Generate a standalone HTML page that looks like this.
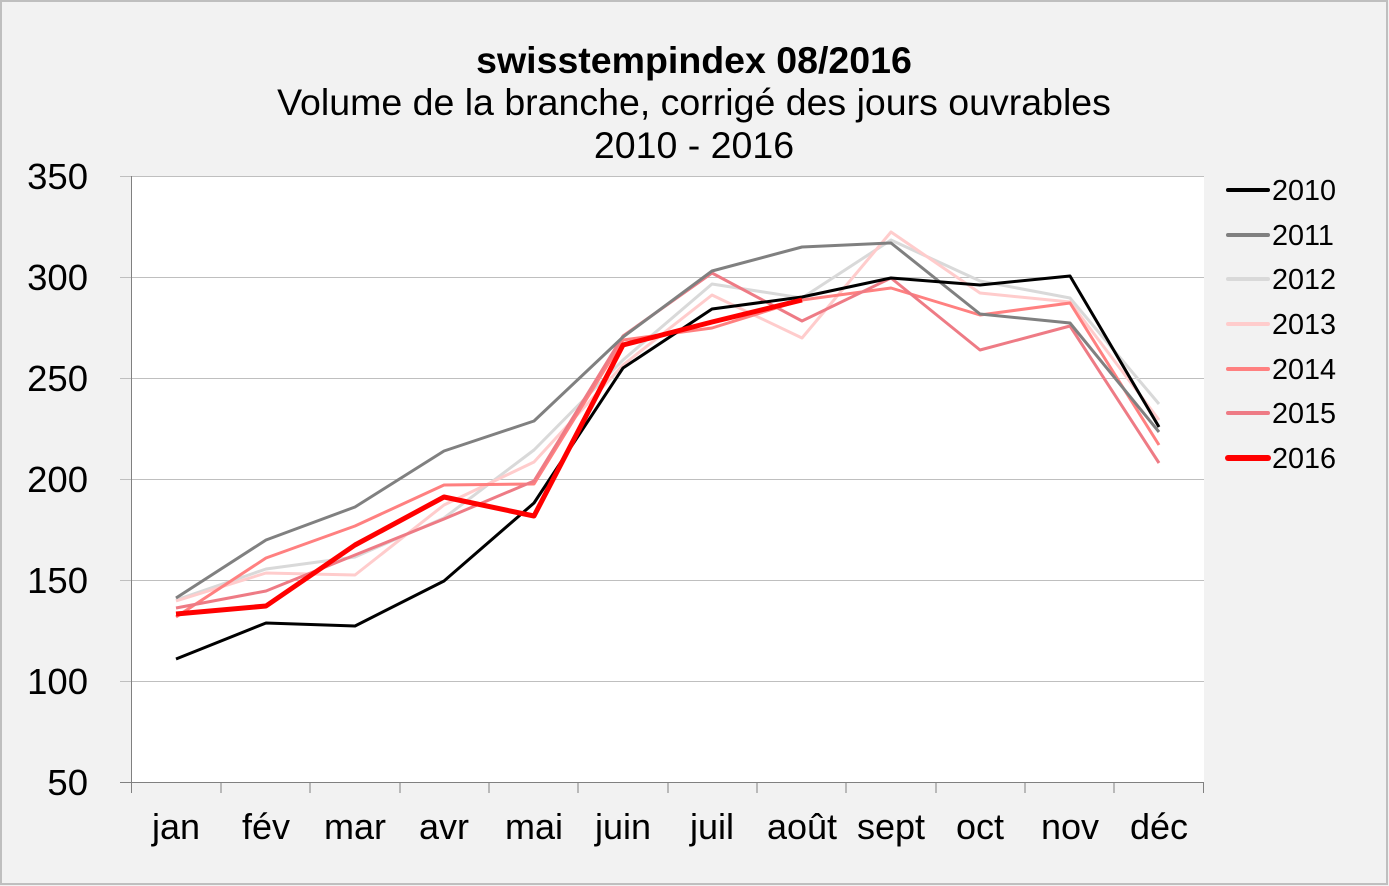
<!DOCTYPE html>
<html><head><meta charset="utf-8"><style>
html,body{margin:0;padding:0;background:#f2f2f2}
svg{display:block;font-family:"Liberation Sans",Arial,sans-serif}
</style></head><body>
<svg width="1389" height="886" viewBox="0 0 1389 886" xmlns="http://www.w3.org/2000/svg">
<rect x="0" y="0" width="1389" height="886" fill="#f2f2f2"/>
<rect x="1" y="1" width="1386" height="883" fill="none" stroke="#bfbfbf" stroke-width="2"/>
<rect x="131" y="176" width="1073" height="606" fill="#fff"/>
<g stroke="#bfbfbf" stroke-width="1">
<line x1="120" y1="176.5" x2="1204" y2="176.5"/>
<line x1="120" y1="277.5" x2="1204" y2="277.5"/>
<line x1="120" y1="378.5" x2="1204" y2="378.5"/>
<line x1="120" y1="479.5" x2="1204" y2="479.5"/>
<line x1="120" y1="580.5" x2="1204" y2="580.5"/>
<line x1="120" y1="681.5" x2="1204" y2="681.5"/>
</g>
<g stroke="#808080" stroke-width="1">
<line x1="131.5" y1="176" x2="131.5" y2="782"/>
<line x1="120" y1="782.5" x2="1204" y2="782.5"/>
<line x1="131.5" y1="782" x2="131.5" y2="793"/>
<line x1="221" y1="782" x2="221" y2="793"/>
<line x1="310" y1="782" x2="310" y2="793"/>
<line x1="400" y1="782" x2="400" y2="793"/>
<line x1="489" y1="782" x2="489" y2="793"/>
<line x1="578" y1="782" x2="578" y2="793"/>
<line x1="668" y1="782" x2="668" y2="793"/>
<line x1="757" y1="782" x2="757" y2="793"/>
<line x1="846" y1="782" x2="846" y2="793"/>
<line x1="936" y1="782" x2="936" y2="793"/>
<line x1="1025" y1="782" x2="1025" y2="793"/>
<line x1="1114" y1="782" x2="1114" y2="793"/>
<line x1="1203.5" y1="782" x2="1203.5" y2="793"/>
</g>
<g font-size="36.5" text-anchor="end" fill="#000">
<text x="88" y="189">350</text><text x="88" y="290">300</text><text x="88" y="391">250</text>
<text x="88" y="492">200</text><text x="88" y="593">150</text><text x="88" y="694">100</text><text x="88" y="795">50</text>
</g>
<g font-size="36" text-anchor="middle" fill="#000">
<text x="176" y="839">jan</text><text x="266" y="839">fév</text><text x="355" y="839">mar</text>
<text x="444" y="839">avr</text><text x="534" y="839">mai</text><text x="623" y="839">juin</text>
<text x="712" y="839">juil</text><text x="802" y="839">août</text><text x="891" y="839">sept</text>
<text x="980" y="839">oct</text><text x="1070" y="839">nov</text><text x="1159" y="839">déc</text>
</g>
<text x="694" y="73" font-size="37.5" font-weight="bold" text-anchor="middle">swisstempindex 08/2016</text>
<text x="694" y="115" font-size="37.5" text-anchor="middle">Volume de la branche, corrigé des jours ouvrables</text>
<text x="694" y="158" font-size="37.5" text-anchor="middle">2010 - 2016</text>
<g fill="none" stroke-width="3" stroke-linejoin="round">
<polyline stroke="#d9d9d9" points="176,600 266,569 355,557 444,518 534,450 623,360 712,284 802,298 891,240 980,281 1070,298 1159,404"/>
<polyline stroke="#ffcccc" points="176,601 266,573 355,575 444,505 534,462 623,365 712,295 802,338 891,232 980,293 1070,302 1159,420"/>
<polyline stroke="#ff8080" points="176,617 266,558 355,526 444,485 534,484 623,340 712,328 802,300 891,288 980,315 1070,303 1159,445"/>
<polyline stroke="#ee7b85" points="176,608 266,591 355,555 444,519 534,481 623,336 712,273 802,321 891,278 980,350 1070,326 1159,463"/>
<polyline stroke="#808080" points="176,598 266,540 355,507 444,451 534,421 623,337 712,271 802,247 891,243 980,314 1070,323 1159,432"/>
<polyline stroke="#000" points="176,659 266,623 355,626 444,581 534,503 623,368 712,309 802,297 891,278 980,285 1070,276 1159,427"/>
<polyline stroke="#ff0000" stroke-width="5" points="176,614 266,606 355,545 444,497 534,516 623,345 712,322 802,300"/>
</g>
<g stroke-width="4" stroke-linecap="round">
<line x1="1228" y1="190" x2="1268" y2="190" stroke="#000"/>
<line x1="1228" y1="235" x2="1268" y2="235" stroke="#808080"/>
<line x1="1228" y1="279" x2="1268" y2="279" stroke="#d9d9d9"/>
<line x1="1228" y1="324" x2="1268" y2="324" stroke="#ffcccc"/>
<line x1="1228" y1="369" x2="1268" y2="369" stroke="#ff8080"/>
<line x1="1228" y1="413" x2="1268" y2="413" stroke="#ee7b85"/>
<line x1="1228" y1="458" x2="1268" y2="458" stroke="#ff0000" stroke-width="6"/>
</g>
<g font-size="28.8" fill="#000">
<text x="1272" y="200">2010</text><text x="1272" y="245">2011</text><text x="1272" y="289">2012</text>
<text x="1272" y="334">2013</text><text x="1272" y="379">2014</text><text x="1272" y="423">2015</text><text x="1272" y="468">2016</text>
</g>
</svg>
</body></html>
